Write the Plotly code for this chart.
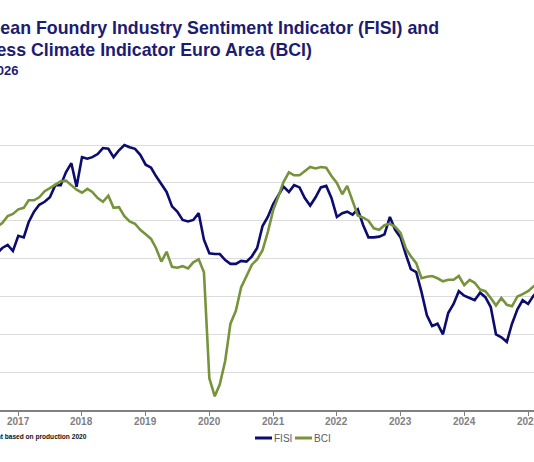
import pandas as pd
import plotly.graph_objects as go

# ---- data (monthly, Sep 2016 .. Mar 2025) ----
months = pd.date_range("2016-09-01", periods=103, freq="MS")

fisi = [95.7, 96.4, 96.8, 96.0,
        98.0, 97.8, 99.8, 101.2, 102.1, 102.5, 103.1, 104.7, 104.7, 106.4, 107.6, 104.5,
        108.4, 108.2, 108.4, 108.8, 109.6, 109.5, 108.4, 109.3, 110.0, 109.7, 109.5, 108.7,
        107.4, 107.0, 105.9, 104.9, 103.8, 101.9, 101.2, 100.1, 99.9, 100.1, 101.0, 97.5,
        95.7, 95.6, 95.6, 94.8, 94.3, 94.3, 94.7, 94.6, 95.3, 96.4, 99.3, 100.5,
        102.2, 103.4, 104.5, 103.8, 104.7, 104.4, 103.0, 102.0, 103.1, 104.4, 104.6, 103.0,
        100.5, 101.0, 101.2, 100.8, 101.5, 99.4, 97.8, 97.8, 97.9, 98.2, 100.5, 98.8,
        97.8, 95.5, 93.6, 93.2, 90.6, 87.5, 86.1, 86.4, 85.0, 87.8, 89.0, 90.7,
        90.1, 89.8, 89.5, 90.5, 89.9, 88.6, 85.0, 84.6, 84.0, 86.4, 88.3, 89.5,
        89.0, 90.1, 90.8]

bci = [99.2, 99.7, 100.6, 100.9,
       101.5, 101.7, 102.7, 102.7, 103.1, 103.9, 104.3, 104.7, 105.2, 105.3, 104.7, 104.1,
       103.7, 104.2, 103.8, 103.0, 102.5, 103.3, 101.7, 101.8, 100.6, 99.9, 99.6, 98.8,
       98.2, 97.6, 96.4, 94.6, 95.9, 93.9, 93.8, 94.0, 93.7, 94.5, 94.9, 93.2,
       79.2, 76.8, 78.4, 81.5, 86.4, 88.1, 91.2, 92.8, 94.2, 94.9, 96.1, 98.5,
       101.4, 103.3, 105.1, 106.4, 106.0, 106.0, 106.6, 107.1, 106.9, 107.1, 107.0, 105.9,
       105.0, 103.5, 104.6, 102.5, 100.7, 100.4, 100.0, 99.0, 98.8, 99.4, 99.6, 99.2,
       98.4, 96.3, 95.3, 94.4, 92.4, 92.6, 92.7, 92.4, 92.0, 92.2, 92.2, 92.7,
       91.5, 92.2, 91.8, 90.9, 90.7, 89.8, 88.8, 89.8, 88.9, 88.7, 90.0, 90.3,
       90.7, 91.3, 91.8]

year_ticks = [f"{y}-01-01" for y in range(2017, 2026)]
year_labels = [str(y) for y in range(2017, 2026)]
grid_vals = [80, 85, 90, 95, 100, 105, 110]

NAVY = "#0c0c6e"
GREEN = "#77933c"
TITLE = "#1c1c72"

W, H = 534, 462
ML, MR, MT, MB = 0, 0, 100, 52
PH = H - MT - MB


def px(x):
    return x / W


def py(y):
    return (H - MB - y) / PH


fig = go.Figure()
fig.add_trace(go.Scatter(x=months, y=fisi, mode="lines", name="FISI",
                         line=dict(color=NAVY, width=2.6)))
fig.add_trace(go.Scatter(x=months, y=bci, mode="lines", name="BCI",
                         line=dict(color=GREEN, width=2.6)))

annotations = [
    dict(text="<b>European Foundry Industry Sentiment Indicator (FISI) and</b>",
         x=px(441), y=py(28), xanchor="right", yanchor="middle",
         font=dict(family="Liberation Sans", size=17.8, color=TITLE)),
    dict(text="<b>Business Climate Indicator Euro Area (BCI)</b>",
         x=px(314), y=py(50), xanchor="right", yanchor="middle",
         font=dict(family="Liberation Sans", size=17.8, color=TITLE)),
    dict(text="<b>2016 - 2026</b>",
         x=px(20), y=py(70), xanchor="right", yanchor="middle",
         font=dict(family="Liberation Sans", size=13, color=TITLE)),
    dict(text="<b>Weight based on production 2020</b>",
         x=px(89), y=py(437), xanchor="right", yanchor="middle",
         font=dict(family="Liberation Sans", size=6.6, color="#111111")),
    dict(text="FISI", x=px(272), y=py(438), xanchor="left", yanchor="middle",
         font=dict(family="Liberation Sans", size=10, color="#5a5a6a")),
    dict(text="BCI", x=px(312), y=py(438), xanchor="left", yanchor="middle",
         font=dict(family="Liberation Sans", size=10, color="#5a5a6a")),
]
for a in annotations:
    a.update(xref="paper", yref="paper", showarrow=False)

# year labels of the x axis, placed at the tick positions
for tv, tl in zip(year_ticks, year_labels):
    annotations.append(dict(
        text=f"<b>{tl}</b>", x=tv, xref="x", y=py(421), yref="paper",
        xanchor="center", yanchor="middle", showarrow=False,
        font=dict(family="Liberation Sans", size=10, color="#808080")))

shapes = [
    dict(type="line", xref="paper", yref="paper", x0=px(255), x1=px(272),
         y0=py(438), y1=py(438), line=dict(color=NAVY, width=3)),
    dict(type="line", xref="paper", yref="paper", x0=px(295), x1=px(312),
         y0=py(438), y1=py(438), line=dict(color=GREEN, width=3)),
]

fig.update_layout(
    width=W, height=H,
    margin=dict(l=ML, r=MR, t=MT, b=MB, pad=0),
    paper_bgcolor="white", plot_bgcolor="white",
    showlegend=False,
    annotations=annotations,
    shapes=shapes,
    xaxis=dict(
        type="date",
        range=["2016-09-18", "2025-02-04"],
        tickvals=year_ticks, showticklabels=False,
        ticks="outside", ticklen=4, tickwidth=1, tickcolor="#808080",
        showline=True, linecolor="#808080", linewidth=1.5,
        showgrid=False, zeroline=False,
    ),
    yaxis=dict(
        range=[75, 75 + PH / 7.571],
        tickvals=grid_vals, showticklabels=False,
        showgrid=True, gridcolor="#dcdcdc", gridwidth=1,
        zeroline=False, showline=False,
    ),
)

fig.write_html("out.html")
